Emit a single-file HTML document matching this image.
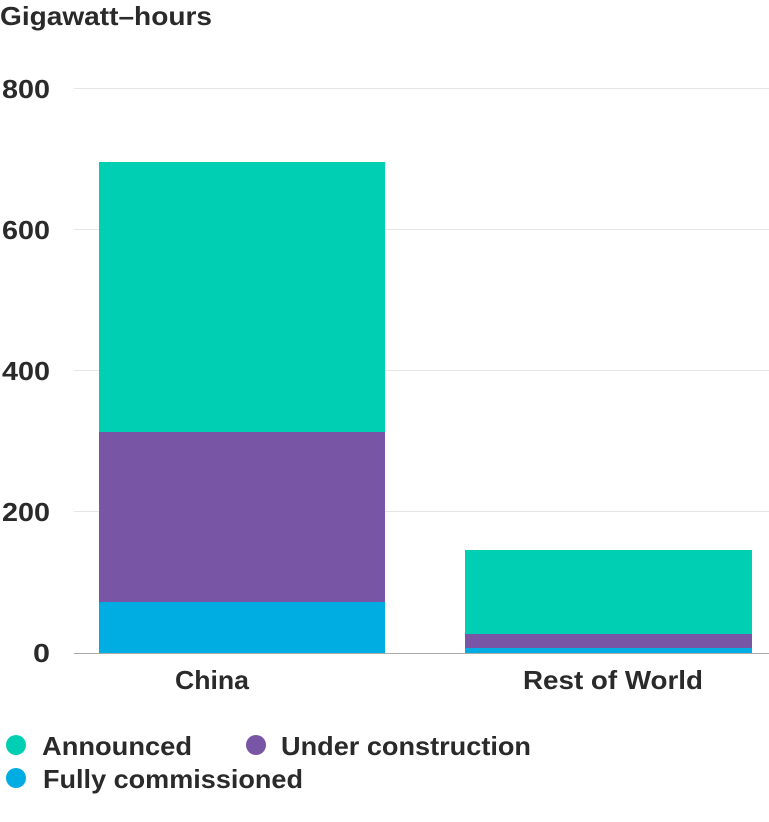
<!DOCTYPE html>
<html><head><style>
body{margin:0;background:#fff;font-family:"Liberation Sans",sans-serif;color:#222;}
</style></head><body>
<svg width="769" height="822" xmlns="http://www.w3.org/2000/svg" style="display:block">
<g font-family="Liberation Sans, sans-serif" fill="#2a2a2a" font-weight="bold">
<text x="0" y="25" font-size="26" textLength="212" lengthAdjust="spacingAndGlyphs">Gigawatt–hours</text>
<g stroke="#e6e6e6" stroke-width="1">
<line x1="74" x2="769" y1="88.5" y2="88.5"/>
<line x1="74" x2="769" y1="229.5" y2="229.5"/>
<line x1="74" x2="769" y1="370.5" y2="370.5"/>
<line x1="74" x2="769" y1="511.5" y2="511.5"/>
</g>
<g font-size="26">
<text x="2" y="98" textLength="48" lengthAdjust="spacingAndGlyphs">800</text>
<text x="2" y="239" textLength="48" lengthAdjust="spacingAndGlyphs">600</text>
<text x="2" y="380" textLength="48" lengthAdjust="spacingAndGlyphs">400</text>
<text x="2" y="521" textLength="48" lengthAdjust="spacingAndGlyphs">200</text>
<text x="33" y="662" textLength="17" lengthAdjust="spacingAndGlyphs">0</text>
</g>
<rect x="99" y="162" width="286" height="270" fill="#00cfb4"/>
<rect x="99" y="432" width="286" height="170" fill="#7856a5"/>
<rect x="99" y="602" width="286" height="51" fill="#00ade2"/>
<rect x="465" y="550" width="287" height="85" fill="#00cfb4"/>
<rect x="465" y="634" width="287" height="14" fill="#7856a5"/>
<rect x="465" y="648" width="287" height="5" fill="#00ade2"/>
<line x1="74" x2="769" y1="653.5" y2="653.5" stroke="#aaa" stroke-width="1"/>
<g font-size="26">
<text x="175" y="689" textLength="74" lengthAdjust="spacingAndGlyphs">China</text>
<text x="523" y="689" textLength="180" lengthAdjust="spacingAndGlyphs">Rest of World</text>
</g>
<g font-size="26">
<circle cx="16" cy="745" r="10" fill="#00cfb4"/>
<text x="42" y="755" textLength="150" lengthAdjust="spacingAndGlyphs">Announced</text>
<circle cx="256" cy="745" r="10" fill="#7856a5"/>
<text x="281" y="755" textLength="250" lengthAdjust="spacingAndGlyphs">Under construction</text>
<circle cx="16" cy="778" r="10" fill="#00ade2"/>
<text x="43" y="788" textLength="260" lengthAdjust="spacingAndGlyphs">Fully commissioned</text>
</g>
</g>
</svg>
</body></html>
